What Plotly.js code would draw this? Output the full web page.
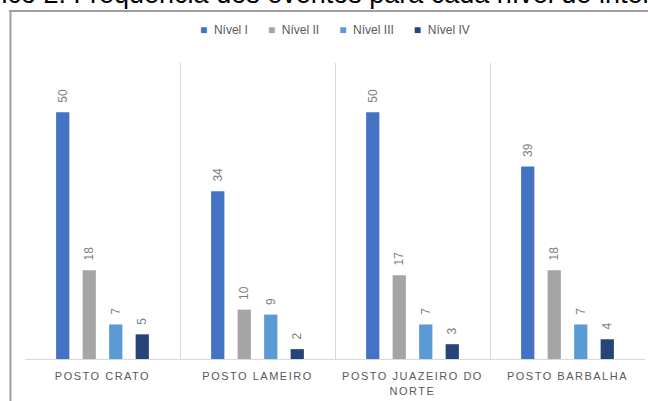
<!DOCTYPE html>
<html><head><meta charset="utf-8">
<script src="https://cdn.plot.ly/plotly-3.0.1.min.js"></script>
<style>
html,body{margin:0;padding:0;background:#fff;overflow:hidden}
#chart{width:648px;height:401px}
.xtick text{letter-spacing:1.5px}
</style></head><body><div id="chart"></div>
<script>
const categories = ['POSTO CRATO', 'POSTO LAMEIRO', 'POSTO JUAZEIRO DO NORTE', 'POSTO BARBALHA'];
const tickLabels = ['POSTO CRATO', 'POSTO LAMEIRO', 'POSTO JUAZEIRO DO<br>NORTE', 'POSTO BARBALHA'];
const seriesNames = ['Nível I', 'Nível II', 'Nível III', 'Nível IV'];
const nivelI = [50, 34, 50, 39];
const nivelII = [18, 10, 17, 18];
const nivelIII = [7, 9, 7, 7];
const nivelIV = [5, 2, 3, 4];
const seriesColors = ['#4472C4', '#A5A5A5', '#5B9BD5', '#264478'];
const titleText = 'Gráfico 2: Frequência dos eventos para cada nível de intensidade';

const allSeries = [nivelI, nivelII, nivelIII, nivelIV];
const traces = allSeries.map((vals, i) => ({
  type: 'bar',
  name: seriesNames[i],
  x: categories,
  y: vals,
  marker: {color: seriesColors[i]},
  texttemplate: '\u00a0\u00a0%{y}',
  textposition: 'outside',
  textangle: -90,
  constraintext: 'none',
  cliponaxis: false,
  textfont: {family: 'Liberation Sans, Arial, sans-serif', size: 12, color: '#7f7f7f'},
  hoverinfo: 'skip',
  showlegend: false
}));

const legendHtml = seriesNames.map((n, i) =>
  '<span style="color:' + seriesColors[i] + '">■</span>\u00a0 ' + n
).join('\u00a0\u00a0\u00a0\u00a0\u00a0\u00a0');

const layout = {
  width: 648, height: 401,
  margin: {l: 25, r: 3, t: 63, b: 42, pad: 0},
  paper_bgcolor: '#ffffff', plot_bgcolor: '#ffffff',
  barmode: 'group', bargap: 0.316, bargroupgap: 0.5,
  showlegend: false,
  font: {family: 'Liberation Sans, Arial, sans-serif', color: '#595959'},
  xaxis: {
    type: 'category', tickmode: 'array', tickvals: categories, ticktext: tickLabels,
    tickson: 'boundaries', showgrid: true, gridcolor: '#d9d9d9', gridwidth: 1,
    showline: true, linecolor: '#d9d9d9', linewidth: 1, ticks: '',
    ticklabelstandoff: 7,
    tickfont: {family: 'Liberation Sans, Arial, sans-serif', size: 11, color: '#595959'}
  },
  yaxis: {range: [0, 60], showgrid: false, zeroline: false, showticklabels: false, ticks: '', showline: false},
  shapes: [
    {type: 'line', xref: 'paper', yref: 'paper', x0: -0.0258, x1: 1.05, y0: 1.1757, y1: 1.1757, line: {color: '#a0a0a0', width: 2}},
    {type: 'line', xref: 'paper', yref: 'paper', x0: -0.0234, x1: -0.0234, y0: 1.1757, y1: -0.2, line: {color: '#a0a0a0', width: 2}}
  ],
  annotations: [
    {xref: 'paper', yref: 'paper', x: -0.1253, y: 1.1743, xanchor: 'left', yanchor: 'bottom', showarrow: false,
     text: titleText, font: {family: 'Liberation Sans, Arial, sans-serif', size: 27, color: '#000000'}},
    {xref: 'paper', yref: 'paper', x: 0.5, y: 1.1115, xanchor: 'center', yanchor: 'middle', showarrow: false,
     text: legendHtml, font: {family: 'Liberation Sans, Arial, sans-serif', size: 12, color: '#595959'}}
  ]
};

Plotly.newPlot('chart', traces, layout, {displayModeBar: false, staticPlot: true});
</script></body></html>
